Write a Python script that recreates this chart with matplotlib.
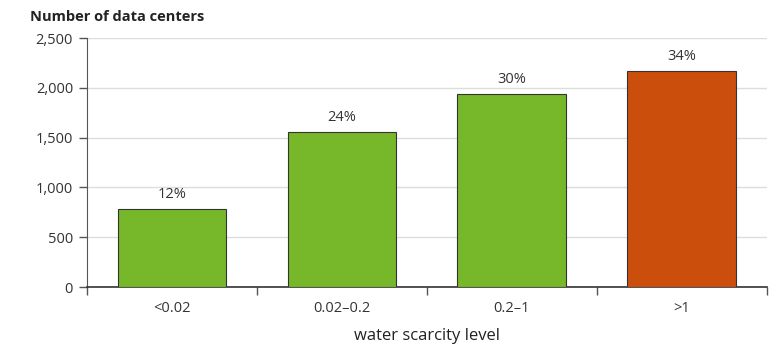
import numpy as np
import matplotlib.pyplot as plt
from matplotlib.ticker import FuncFormatter

plt.rcParams['font.family'] = ['Open Sans', 'DejaVu Sans']

# data
levels = ['<0.02', '0.02\u20130.2', '0.2\u20131', '>1']
centers = [780, 1560, 1940, 2170]
shares = ['12%', '24%', '30%', '34%']
colors = ['#76b82a', '#76b82a', '#76b82a', '#cc4e0c']

fig = plt.figure(figsize=(7.8, 3.62), dpi=100)
ax = fig.add_axes([0.1115, 0.207, 0.8715, 0.688])

x = np.arange(len(levels))
bars = ax.bar(x, centers, width=0.64, color=colors, edgecolor='#333333', linewidth=0.8, zorder=3)

for b, s in zip(bars, shares):
    ax.annotate(s, (b.get_x() + b.get_width() / 2, b.get_height()), xytext=(0, 5),
                textcoords='offset points', ha='center', va='bottom', fontsize=10.5, color='#333333')

ax.set_xlim(-0.5, 3.5)
ax.set_ylim(0, 2500)
ax.set_yticks(np.arange(0, 2501, 500))
ax.yaxis.set_major_formatter(FuncFormatter(lambda v, p: f'{int(v):,}'))
ax.yaxis.grid(True, color='#dddddd', linewidth=1, zorder=0)

ax.set_xticks(x)
ax.set_xticklabels(levels)
ax.set_xticks(np.arange(-0.5, 3.6, 1), minor=True)
ax.tick_params(axis='x', which='major', length=0, pad=10, labelsize=10.5, labelcolor='#333333')
ax.tick_params(axis='x', which='minor', length=6, width=1, color='#555555', direction='out')
ax.tick_params(axis='y', length=6, width=1, color='#555555', labelsize=10.5, labelcolor='#333333', pad=4)

for side in ['top', 'right']:
    ax.spines[side].set_visible(False)
ax.spines['left'].set_color('#555555')
ax.spines['bottom'].set_color('#333333')
ax.spines['bottom'].set_linewidth(1.2)

fig.text(0.038, 0.952, 'Number of data centers', fontsize=10.5, fontweight='bold', color='#222222', va='center')
ax.set_xlabel('water scarcity level', fontsize=12, color='#222222', labelpad=9)

fig.savefig('out.png', dpi=100)
